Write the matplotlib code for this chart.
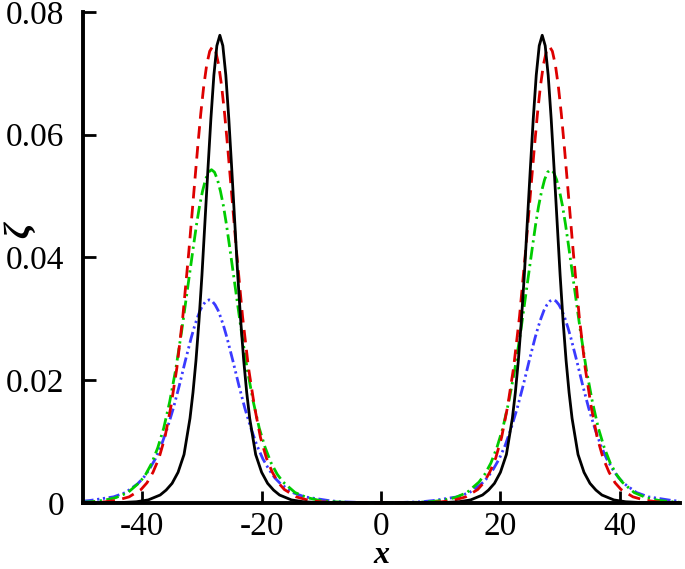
import numpy as np
import matplotlib
matplotlib.use("Agg")
import matplotlib.pyplot as plt

plt.rcParams["font.family"] = ["Liberation Serif", "DejaVu Serif"]
plt.rcParams["axes.unicode_minus"] = False

# right-hand peak (x >= 0); the left peak is its mirror image
black_x = [0, 10, 13, 15, 17, 18, 19, 20, 21, 22, 22.5, 23, 23.5, 24, 24.5, 25, 25.5,
           26, 26.5, 27, 27.5, 28, 28.5, 29, 29.5, 30, 30.5, 31, 31.5, 32, 33, 34, 35,
           36, 37, 39, 41, 44, 50]
black_y = [0, 0.00005, 0.0002, 0.0005, 0.0013, 0.0021, 0.0032, 0.0050, 0.0079, 0.0138,
           0.0180, 0.0232, 0.0296, 0.0371, 0.0457, 0.0543, 0.0626, 0.0697, 0.0745, 0.0762,
           0.0745, 0.0697, 0.0626, 0.0543, 0.0457, 0.0371, 0.0296, 0.0232, 0.0180, 0.0138,
           0.0079, 0.0050, 0.0032, 0.0021, 0.0013, 0.0005, 0.0002, 0.00005, 0]

red_x = [0, 6.2, 10.2, 12.2, 14.2, 16.2, 17.2, 18.2, 19.2, 20.2, 21.2, 22.2, 23.2, 24.2,
         25.2, 25.7, 26.2, 26.7, 27.2, 27.7, 28.2, 28.7, 29.2, 29.7, 30.2, 30.7, 31.2,
         32.2, 33.2, 34.2, 35.2, 36.2, 37.2, 38.2, 39.2, 40.2, 42.2, 44.2, 46.2, 50]
red_y = [0, 0.00004, 0.0002, 0.00045, 0.0010, 0.0022, 0.0033, 0.0050, 0.0073, 0.0107,
         0.0157, 0.0220, 0.0304, 0.0409, 0.0524, 0.0581, 0.0634, 0.0679, 0.0714, 0.0736,
         0.0744, 0.0736, 0.0714, 0.0679, 0.0634, 0.0581, 0.0524, 0.0409, 0.0304, 0.0220,
         0.0157, 0.0107, 0.0073, 0.0050, 0.0033, 0.0022, 0.0010, 0.00045, 0.0002, 0.00004]

green_x = [0, 4.4, 8.4, 10.4, 12.4, 14.4, 16.4, 17.4, 18.4, 19.4, 20.4, 21.4, 22.4, 23.4,
           24.4, 25.4, 25.9, 26.4, 26.9, 27.4, 27.9, 28.4, 28.9, 29.4, 29.9, 30.4, 30.9,
           31.4, 32.4, 33.4, 34.4, 35.4, 36.4, 37.4, 38.4, 39.4, 40.4, 42.4, 44.4, 46.4,
           48.4, 50]
green_y = [0, 0.00006, 0.00022, 0.00044, 0.00088, 0.0017, 0.0034, 0.0047, 0.0065, 0.0090,
           0.0122, 0.0165, 0.0217, 0.0280, 0.0350, 0.0420, 0.0454, 0.0484, 0.0508, 0.0527,
           0.0539, 0.0543, 0.0539, 0.0527, 0.0508, 0.0484, 0.0454, 0.0420, 0.0350, 0.0280,
           0.0217, 0.0165, 0.0122, 0.0090, 0.0065, 0.0047, 0.0034, 0.0017, 0.00088,
           0.00044, 0.00022, 0.00012]

blue_x = [0, 3.8, 6.8, 8.8, 10.8, 12.8, 14.8, 16.8, 17.8, 18.8, 19.8, 20.8, 21.8, 22.8,
          23.8, 24.8, 25.8, 26.3, 26.8, 27.3, 27.8, 28.3, 28.8, 29.3, 29.8, 30.3, 30.8,
          31.3, 31.8, 32.8, 33.8, 34.8, 35.8, 36.8, 37.8, 38.8, 39.8, 40.8, 42.8, 44.8,
          46.8, 48.8, 50]
blue_y = [0.00003, 0.0001, 0.0002, 0.0004, 0.0007, 0.0010, 0.0017, 0.0031, 0.0041, 0.0055,
          0.0072, 0.0094, 0.0122, 0.0154, 0.0191, 0.0231, 0.0269, 0.0286, 0.0301, 0.0314,
          0.0323, 0.0329, 0.0331, 0.0329, 0.0323, 0.0314, 0.0301, 0.0286, 0.0269, 0.0231,
          0.0191, 0.0154, 0.0122, 0.0094, 0.0072, 0.0055, 0.0041, 0.0031, 0.0017, 0.0010,
          0.0007, 0.0004, 0.0003]

xticks = [-40, -20, 0, 20, 40]
yticks = [0, 0.02, 0.04, 0.06, 0.08]
ytick_labels = ["0", "0.02", "0.04", "0.06", "0.08"]


def both_sides(x, y):
    x = np.asarray(x, dtype=float)
    y = np.asarray(y, dtype=float)
    return np.concatenate([-x[::-1], x]), np.concatenate([y[::-1], y])


fig = plt.figure(figsize=(6.85, 5.69), dpi=100)
ax = fig.add_axes([0.1205, 0.116, 0.8715, 0.863])

styles = [
    (blue_x, blue_y, "#3a3aff", (4, 1.3, 0.8, 1.3, 0.8, 1.3)),
    (green_x, green_y, "#00cc00", (4.6, 1.6, 0.8, 1.6)),
    (red_x, red_y, "#dd0000", (4.5, 2.7)),
]
for xs, ys, col, dash in styles:
    fx, fy = both_sides(xs, ys)
    ax.plot(fx, fy, color=col, lw=2.0, dashes=dash, clip_on=False)

bx, by = both_sides(black_x, black_y)
ax.plot(bx, by, color="black", lw=2.0)

ax.set_xlim(-50, 50)
ax.set_ylim(0, 0.08)
ax.set_xticks(xticks)
ax.set_xticklabels([str(t) for t in xticks])
ax.set_yticks(yticks)
ax.set_yticklabels(ytick_labels)

for s in ["top", "right"]:
    ax.spines[s].set_visible(False)
for s in ["left", "bottom"]:
    ax.spines[s].set_linewidth(2.8)

ax.tick_params(direction="in", length=9, width=2.0, labelsize=24)
ax.tick_params(axis="y", pad=13)
ax.tick_params(axis="x", pad=6)

ax.set_xlabel("x", fontsize=23, fontweight="bold", style="italic", va="center")
ax.xaxis.set_label_coords(0.5, -0.107)
ax.set_ylabel("ζ", fontsize=26, fontweight="bold", style="italic",
              rotation=90, va="center", ha="center")
ax.yaxis.set_label_coords(-0.104, 0.556)

fig.savefig("out.png", dpi=100)
